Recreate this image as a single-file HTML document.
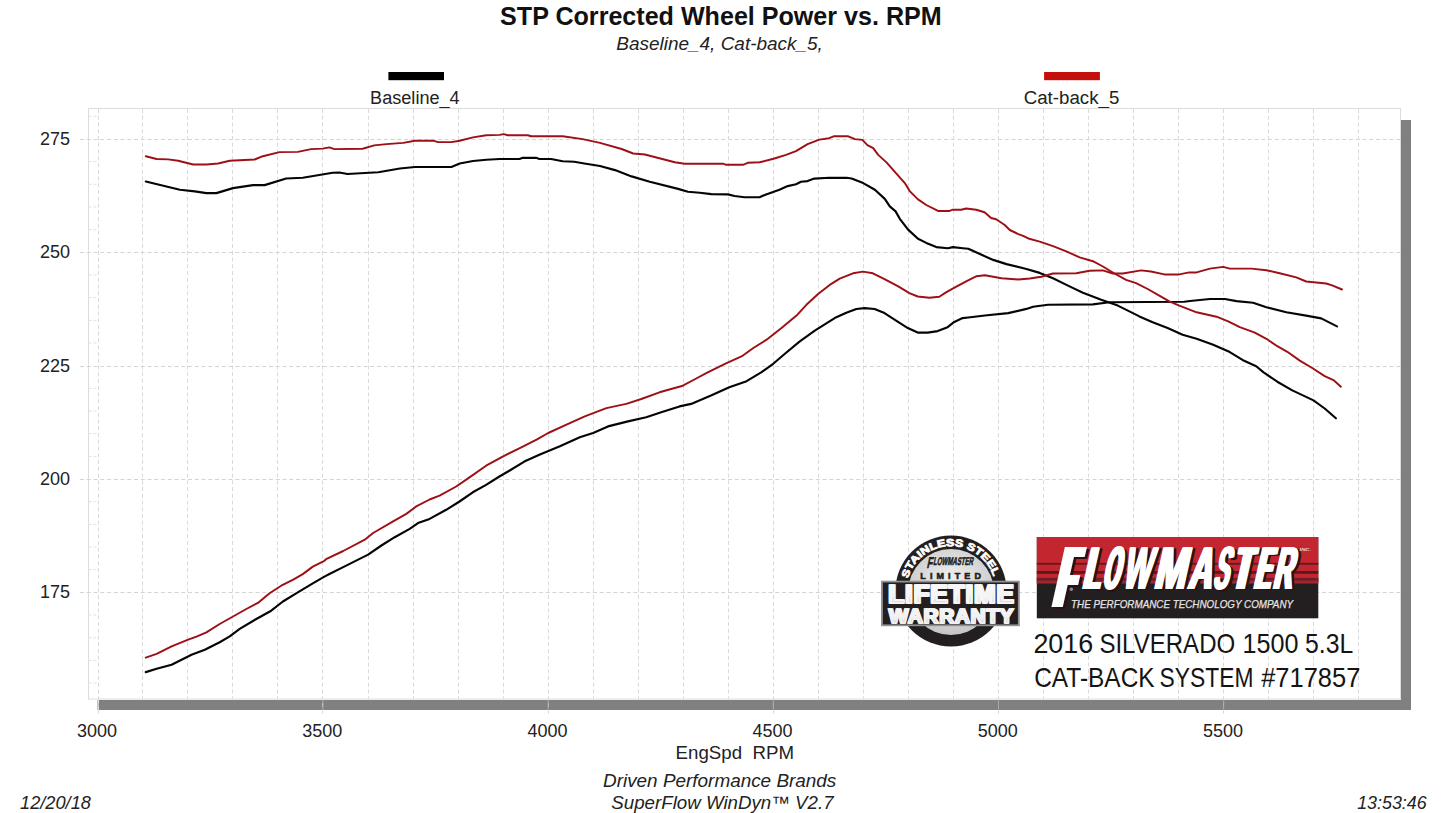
<!DOCTYPE html><html><head><meta charset="utf-8"><title>STP Corrected Wheel Power vs. RPM</title>
<style>html,body{margin:0;padding:0;background:#fff;}body{width:1445px;height:813px;overflow:hidden;font-family:"Liberation Sans",sans-serif;}svg{display:block;position:absolute;left:0;top:0;}text{font-family:"Liberation Sans",sans-serif;}</style></head><body>
<svg width="1445" height="813" viewBox="0 0 1445 813">
<defs>
<radialGradient id="gInner" cx="50%" cy="40%" r="60%"><stop offset="0" stop-color="#f3f3f3"/><stop offset="1" stop-color="#c6c6c6"/></radialGradient>
<linearGradient id="gSilver" x1="0" y1="0" x2="0" y2="1"><stop offset="0" stop-color="#ffffff"/><stop offset="0.55" stop-color="#f2f2f2"/><stop offset="1" stop-color="#c9c9c9"/></linearGradient>
</defs>
<rect x="0" y="0" width="1445" height="813" fill="#ffffff"/>
<text x="720.9" y="24.9" text-anchor="middle" font-size="25" font-weight="bold" fill="#111" textLength="441.6" lengthAdjust="spacingAndGlyphs">STP Corrected Wheel Power vs. RPM</text>
<text x="719.6" y="49.8" text-anchor="middle" font-size="18" font-style="italic" fill="#222" textLength="206.6" lengthAdjust="spacingAndGlyphs">Baseline_4, Cat-back_5,</text>
<rect x="388.4" y="72" width="55.6" height="8.2" fill="#000"/>
<text x="414.9" y="103.6" text-anchor="middle" font-size="18" fill="#222" textLength="89.6" lengthAdjust="spacingAndGlyphs">Baseline_4</text>
<rect x="1044.1" y="72" width="55.8" height="8.2" fill="#c3100d"/>
<text x="1071.5" y="103.6" text-anchor="middle" font-size="18" fill="#222" textLength="95.6" lengthAdjust="spacingAndGlyphs">Cat-back_5</text>
<rect x="1401" y="120" width="10" height="590" fill="#808080"/>
<rect x="99" y="700" width="1312" height="10" fill="#808080"/>
<rect x="88.5" y="108.5" width="1312.0" height="590.5" fill="#ffffff" stroke="#dcdcdc" stroke-width="1"/>
<path d="M98.50 109.0V716M142.50 109.0V699.0M187.50 109.0V699.0M232.50 109.0V699.0M277.50 109.0V699.0M322.50 109.0V716M368.50 109.0V699.0M413.50 109.0V699.0M458.50 109.0V699.0M503.50 109.0V699.0M548.50 109.0V716M593.50 109.0V699.0M638.50 109.0V699.0M683.50 109.0V699.0M728.50 109.0V699.0M773.50 109.0V716M818.50 109.0V699.0M863.50 109.0V699.0M908.50 109.0V699.0M953.50 109.0V699.0M998.50 109.0V716M1043.50 109.0V699.0M1088.50 109.0V699.0M1133.50 109.0V699.0M1178.50 109.0V699.0M1223.50 109.0V716M1268.50 109.0V699.0M1313.50 109.0V699.0M1358.50 109.0V699.0" fill="none" stroke="#dadada" stroke-width="1" stroke-dasharray="4 2.75"/>
<path d="M80 139.50H1400.5M80 252.50H1400.5M80 366.50H1400.5M80 479.50H1400.5M80 592.50H1400.5" fill="none" stroke="#d4d4d4" stroke-width="1" stroke-dasharray="4 2.75"/>
<path d="M88.5 116.33h9M88.5 161.67h9M88.5 184.34h9M88.5 207.01h9M88.5 229.68h9M88.5 275.02h9M88.5 297.69h9M88.5 320.36h9M88.5 343.03h9M88.5 388.37h9M88.5 411.04h9M88.5 433.71h9M88.5 456.38h9M88.5 501.72h9M88.5 524.39h9M88.5 547.06h9M88.5 569.73h9M88.5 615.07h9M88.5 637.74h9M88.5 660.41h9M88.5 683.08h9" fill="none" stroke="#e2e2e2" stroke-width="1" stroke-dasharray="3 2"/>
<path d="M97.80 700V710" stroke="#a9a9a9" stroke-width="1" fill="none"/>
<path d="M322.97 700V710" stroke="#a9a9a9" stroke-width="1" fill="none"/>
<path d="M548.15 700V710" stroke="#a9a9a9" stroke-width="1" fill="none"/>
<path d="M773.32 700V710" stroke="#a9a9a9" stroke-width="1" fill="none"/>
<path d="M998.50 700V710" stroke="#a9a9a9" stroke-width="1" fill="none"/>
<path d="M1223.67 700V710" stroke="#a9a9a9" stroke-width="1" fill="none"/>
<text x="55" y="144.8" text-anchor="middle" font-size="18" fill="#222">275</text>
<text x="55" y="258.1" text-anchor="middle" font-size="18" fill="#222">250</text>
<text x="55" y="371.5" text-anchor="middle" font-size="18" fill="#222">225</text>
<text x="55" y="484.8" text-anchor="middle" font-size="18" fill="#222">200</text>
<text x="55" y="598.2" text-anchor="middle" font-size="18" fill="#222">175</text>
<text x="97.0" y="737.3" text-anchor="middle" font-size="18" fill="#222">3000</text>
<text x="322.2" y="737.3" text-anchor="middle" font-size="18" fill="#222">3500</text>
<text x="547.4" y="737.3" text-anchor="middle" font-size="18" fill="#222">4000</text>
<text x="772.5" y="737.3" text-anchor="middle" font-size="18" fill="#222">4500</text>
<text x="997.7" y="737.3" text-anchor="middle" font-size="18" fill="#222">5000</text>
<text x="1222.9" y="737.3" text-anchor="middle" font-size="18" fill="#222">5500</text>
<text x="675.6" y="759.2" font-size="18" fill="#222" textLength="118.4" lengthAdjust="spacingAndGlyphs" xml:space="preserve">EngSpd  RPM</text>
<text x="603" y="787.4" font-size="18" font-style="italic" fill="#222" textLength="233.3" lengthAdjust="spacingAndGlyphs">Driven Performance Brands</text>
<text x="611.3" y="809" font-size="18" font-style="italic" fill="#222" textLength="222.3" lengthAdjust="spacingAndGlyphs">SuperFlow WinDyn&#8482; V2.7</text>
<text x="20.1" y="809.4" font-size="18" font-style="italic" fill="#222" textLength="70.8" lengthAdjust="spacingAndGlyphs">12/20/18</text>
<text x="1357.2" y="809.4" font-size="18" font-style="italic" fill="#222" textLength="69.4" lengthAdjust="spacingAndGlyphs">13:53:46</text>
<polyline points="145.8,181.5 179.9,189.8 194.8,191.4 206.4,193.1 216.4,193.1 233.0,188.1 253.0,185.1 264.6,185.1 286.2,178.5 302.8,177.8 332.7,172.8 339.3,172.5 347.6,174.0 369.2,172.8 378.3,172.3 399.9,168.5 414.9,167.0 451.4,167.0 459.7,163.5 473.0,161.0 486.3,159.8 499.6,159.0 519.5,159.0 522.8,157.8 536.1,157.8 539.4,159.0 551.1,159.0 562.7,161.2 574.3,161.8 584.3,163.5 600.0,166.0 615.0,170.1 631.6,176.4 649.8,181.8 678.1,188.9 688.0,191.7 699.7,192.7 711.3,194.1 727.9,194.4 734.6,196.0 744.5,197.2 759.5,197.2 766.1,194.4 779.4,189.7 787.7,186.1 796.0,184.3 801.0,181.8 807.6,181.1 814.3,178.6 829.2,177.8 846.6,177.8 851.6,178.5 863.2,183.1 874.9,189.8 884.8,198.9 889.8,206.4 895.6,211.4 899.8,218.8 908.1,229.6 918.0,238.8 926.3,242.9 936.3,247.1 947.9,248.2 952.9,247.1 962.9,248.2 968.3,248.8 979.9,254.1 993.2,259.9 1006.5,264.1 1026.4,269.0 1039.7,272.9 1053.0,278.2 1068.0,285.6 1082.9,292.8 1101.2,299.8 1117.8,305.6 1129.4,311.4 1139.4,316.4 1152.7,322.2 1167.6,328.0 1182.6,334.7 1196.6,338.8 1213.2,344.7 1229.8,352.1 1242.5,359.9 1256.2,366.2 1263.6,372.4 1277.3,381.7 1292.3,390.4 1313.5,400.4 1324.7,408.5 1335.9,418.2" fill="none" stroke="#050505" stroke-width="2.15" stroke-linejoin="round" stroke-linecap="round"/>
<polyline points="145.8,672.1 156.6,668.8 171.6,664.7 191.5,654.7 204.8,649.7 219.7,642.2 229.7,636.4 239.7,628.9 256.3,619.0 271.2,610.7 282.9,601.5 297.8,592.4 312.8,583.3 324.4,576.6 329.9,573.7 343.2,567.1 368.1,554.6 381.4,545.5 394.7,537.2 409.7,528.9 418.0,523.1 429.6,518.9 446.2,509.8 459.5,501.5 472.8,492.3 486.1,484.9 499.4,476.5 509.3,470.7 524.3,461.6 539.9,454.6 559.9,446.3 579.8,437.2 593.1,433.0 608.0,426.4 628.0,421.4 646.2,417.2 661.2,412.3 679.5,406.4 691.1,403.9 711.0,395.6 729.3,387.3 746.6,381.2 761.6,372.1 773.2,363.8 784.9,353.8 799.8,341.4 814.8,330.6 834.7,318.1 846.3,312.8 856.3,309.0 864.6,308.1 874.6,309.0 884.5,313.1 896.1,320.6 907.8,328.1 917.7,332.6 927.7,332.6 937.7,331.1 947.6,327.2 954.3,321.9 962.6,318.1 968.3,317.5 984.9,315.5 1008.2,313.1 1026.4,308.9 1033.1,306.7 1048.0,304.8 1092.9,304.4 1109.5,302.3 1184.3,301.8 1190.0,301.0 1209.9,299.0 1224.9,299.0 1236.5,301.1 1253.1,302.8 1266.4,307.3 1286.3,312.3 1306.2,315.6 1321.2,318.4 1337.0,326.4" fill="none" stroke="#050505" stroke-width="2.15" stroke-linejoin="round" stroke-linecap="round"/>
<polyline points="145.8,156.2 156.6,159.0 168.2,159.4 178.2,160.7 193.2,164.5 206.4,164.5 218.1,163.5 229.7,160.7 254.6,159.5 262.9,156.2 279.5,152.1 297.8,151.9 311.1,149.1 322.7,148.6 329.4,147.4 334.4,149.1 362.6,148.7 374.2,145.4 386.6,144.1 403.2,142.9 414.9,140.7 433.1,140.6 438.1,142.1 451.4,142.1 459.7,140.7 473.0,137.4 486.3,135.2 499.6,134.9 503.7,134.1 507.9,135.2 527.8,135.2 531.1,136.2 562.7,136.2 582.6,139.1 600.0,142.9 621.6,149.0 633.2,153.5 644.9,154.5 674.8,162.3 684.7,163.7 722.9,163.7 726.2,164.8 742.9,164.8 747.8,162.8 759.5,162.3 774.4,158.5 786.0,154.9 796.0,151.2 807.6,144.1 819.3,139.6 829.2,138.2 834.2,136.2 848.3,136.3 854.9,139.1 862.4,139.9 867.4,145.2 873.2,148.2 878.2,154.9 886.5,162.4 896.4,173.7 904.8,183.1 909.7,191.1 918.0,199.4 926.3,205.0 938.0,210.9 949.6,210.9 952.9,209.7 961.2,209.7 966.2,208.5 976.2,209.7 984.5,212.2 991.1,218.0 996.1,219.2 1004.4,224.7 1009.8,230.0 1017.7,233.8 1023.1,235.8 1029.3,238.8 1039.7,241.6 1053.0,246.1 1066.3,251.3 1079.6,257.4 1092.9,261.2 1102.9,266.5 1114.5,273.5 1126.1,279.8 1136.1,283.2 1147.7,289.0 1159.3,295.6 1169.3,301.4 1179.3,305.6 1196.6,312.3 1216.5,316.7 1228.2,321.4 1239.8,327.2 1254.8,332.7 1266.4,338.8 1277.3,346.2 1287.3,351.8 1299.8,360.6 1312.2,368.0 1324.7,376.1 1333.4,380.1 1340.9,386.7" fill="none" stroke="#9e0f16" stroke-width="1.95" stroke-linejoin="round" stroke-linecap="round"/>
<polyline points="145.8,657.7 156.6,653.9 171.6,646.4 188.2,639.7 196.5,636.7 206.4,632.3 219.7,624.0 233.0,616.5 246.3,609.0 257.9,602.9 269.6,593.2 281.2,585.7 292.8,579.9 302.8,574.1 312.8,566.6 324.4,560.8 326.6,558.8 343.2,551.0 364.8,539.7 373.1,533.0 393.1,521.4 406.3,513.9 416.3,506.4 429.6,499.5 439.6,495.6 456.2,486.5 469.5,477.4 486.1,465.7 502.7,456.6 519.3,448.3 536.6,439.7 548.2,433.0 566.5,424.7 584.8,416.4 606.4,408.1 626.3,403.9 641.3,399.0 659.5,392.3 682.8,385.7 694.4,379.5 707.7,372.4 726.0,363.3 742.6,355.8 753.3,348.0 766.6,339.7 781.5,328.1 796.5,315.6 806.4,304.8 818.1,294.0 829.7,284.9 839.7,278.6 853.0,273.3 862.9,271.6 872.9,273.3 884.5,279.1 897.8,286.2 909.4,293.2 917.7,296.5 929.4,297.8 939.3,296.8 946.0,292.4 955.9,286.9 967.6,280.7 976.6,276.2 984.9,275.2 1001.5,278.2 1018.1,279.5 1029.8,278.5 1041.4,276.8 1053.0,273.5 1076.3,273.2 1089.6,270.7 1102.9,270.4 1112.8,273.5 1122.8,273.5 1141.1,270.4 1151.0,271.5 1164.3,274.4 1179.3,274.4 1189.2,272.4 1196.6,272.4 1209.9,268.6 1223.2,266.9 1229.8,268.6 1251.4,268.6 1266.4,270.2 1279.7,273.2 1296.3,277.4 1306.2,281.5 1326.2,283.5 1332.8,285.7 1342.0,289.5" fill="none" stroke="#9e0f16" stroke-width="1.95" stroke-linejoin="round" stroke-linecap="round"/>
<circle cx="951.0" cy="591.0" r="55.6" fill="#231f20"/>
<circle cx="951.0" cy="592.0" r="42.9" fill="url(#gInner)"/>
<path id="arcTop" d="M907.90 578.40A44.9 44.9 0 0 1 993.45 576.38" fill="none"/>
<text font-size="10.3" font-weight="bold" fill="#ffffff" stroke="#ffffff" stroke-width="0.75" textLength="113.4" lengthAdjust="spacingAndGlyphs"><textPath href="#arcTop" textLength="113.4" lengthAdjust="spacingAndGlyphs">STAINLESS STEEL</textPath></text>
<g transform="translate(926.6,568.2) skewX(-12)"><text x="0" y="0" font-size="15.5" font-weight="bold" fill="#231f20" stroke="#231f20" stroke-width="0.6" textLength="5.6" lengthAdjust="spacingAndGlyphs">F</text></g>
<g transform="translate(933.0,565.4) skewX(-12)"><text x="0" y="0" font-size="11.2" font-weight="bold" fill="#231f20" stroke="#231f20" stroke-width="0.6" textLength="40" lengthAdjust="spacingAndGlyphs">LOWMASTER</text></g>
<text x="920.3" y="578.8" font-size="9.0" font-weight="bold" fill="#231f20" stroke="#231f20" stroke-width="0.6" textLength="60.6" lengthAdjust="spacing">LIMITED</text>
<rect x="881.0" y="580.7" width="138.8" height="45.5" fill="#929292"/>
<rect x="882.9" y="582.5" width="135.0" height="41.9" fill="#231f20"/>
<text x="887.70" y="602.95" font-size="25.2" font-weight="bold" fill="url(#gSilver)" stroke="#f6f6f6" stroke-width="1.7" stroke-linejoin="miter" textLength="125.0" lengthAdjust="spacing">LIFETIME</text>
<text x="888.55" y="602.95" font-size="25.2" font-weight="bold" fill="url(#gSilver)" stroke="#f6f6f6" stroke-width="1.7" stroke-linejoin="miter" textLength="125.0" lengthAdjust="spacing">LIFETIME</text>
<text x="889.40" y="602.95" font-size="25.2" font-weight="bold" fill="url(#gSilver)" stroke="#f6f6f6" stroke-width="1.7" stroke-linejoin="miter" textLength="125.0" lengthAdjust="spacing">LIFETIME</text>
<text x="888.20" y="622.6" font-size="20.6" font-weight="bold" fill="url(#gSilver)" stroke="#f2f2f2" stroke-width="1.35" stroke-linejoin="miter" textLength="124.6" lengthAdjust="spacing">WARRANTY</text>
<text x="888.85" y="622.6" font-size="20.6" font-weight="bold" fill="url(#gSilver)" stroke="#f2f2f2" stroke-width="1.35" stroke-linejoin="miter" textLength="124.6" lengthAdjust="spacing">WARRANTY</text>
<text x="889.50" y="622.6" font-size="20.6" font-weight="bold" fill="url(#gSilver)" stroke="#f2f2f2" stroke-width="1.35" stroke-linejoin="miter" textLength="124.6" lengthAdjust="spacing">WARRANTY</text>
<rect x="1036.8" y="537" width="281.5" height="81.3" fill="#231f20"/>
<rect x="1036.8" y="537" width="281.5" height="46.3" fill="#c3262e"/>
<rect x="1036.8" y="562.9" width="281.5" height="1.8" fill="#5e1b20"/>
<rect x="1036.8" y="571.0" width="281.5" height="2.8" fill="#571a1e"/>
<rect x="1036.8" y="577.9" width="281.5" height="2.9" fill="#6e1f25"/>
<rect x="1036.8" y="580.8" width="281.5" height="2.5" fill="#a3262d"/>
<g transform="translate(1052.02,609.00) skewX(-12.6) scale(0.3396,1)"><text x="0" y="0" font-size="87.2" font-weight="bold" fill="#2a1214">F</text></g><g transform="translate(1052.80,609.00) skewX(-12.6) scale(0.3396,1)"><text x="0" y="0" font-size="87.2" font-weight="bold" fill="#2a1214">F</text></g><g transform="translate(1053.58,609.00) skewX(-12.6) scale(0.3396,1)"><text x="0" y="0" font-size="87.2" font-weight="bold" fill="#2a1214">F</text></g><g transform="translate(1054.36,609.00) skewX(-12.6) scale(0.3396,1)"><text x="0" y="0" font-size="87.2" font-weight="bold" fill="#2a1214">F</text></g><g transform="translate(1055.13,609.00) skewX(-12.6) scale(0.3396,1)"><text x="0" y="0" font-size="87.2" font-weight="bold" fill="#2a1214">F</text></g><g transform="translate(1055.91,609.00) skewX(-12.6) scale(0.3396,1)"><text x="0" y="0" font-size="87.2" font-weight="bold" fill="#2a1214">F</text></g><g transform="translate(1056.69,609.00) skewX(-12.6) scale(0.3396,1)"><text x="0" y="0" font-size="87.2" font-weight="bold" fill="#2a1214">F</text></g><g transform="translate(1057.47,609.00) skewX(-12.6) scale(0.3396,1)"><text x="0" y="0" font-size="87.2" font-weight="bold" fill="#2a1214">F</text></g><g transform="translate(1058.25,609.00) skewX(-12.6) scale(0.3396,1)"><text x="0" y="0" font-size="87.2" font-weight="bold" fill="#2a1214">F</text></g><g transform="translate(1059.02,609.00) skewX(-12.6) scale(0.3396,1)"><text x="0" y="0" font-size="87.2" font-weight="bold" fill="#2a1214">F</text></g><g transform="translate(1082.77,590.40) skewX(-12.6) scale(0.4231,1)"><text x="0" y="0" font-size="60.2" font-weight="bold" fill="#2a1214">L</text></g><g transform="translate(1083.49,590.40) skewX(-12.6) scale(0.4231,1)"><text x="0" y="0" font-size="60.2" font-weight="bold" fill="#2a1214">L</text></g><g transform="translate(1084.20,590.40) skewX(-12.6) scale(0.4231,1)"><text x="0" y="0" font-size="60.2" font-weight="bold" fill="#2a1214">L</text></g><g transform="translate(1084.91,590.40) skewX(-12.6) scale(0.4231,1)"><text x="0" y="0" font-size="60.2" font-weight="bold" fill="#2a1214">L</text></g><g transform="translate(1085.63,590.40) skewX(-12.6) scale(0.4231,1)"><text x="0" y="0" font-size="60.2" font-weight="bold" fill="#2a1214">L</text></g><g transform="translate(1086.34,590.40) skewX(-12.6) scale(0.4231,1)"><text x="0" y="0" font-size="60.2" font-weight="bold" fill="#2a1214">L</text></g><g transform="translate(1087.06,590.40) skewX(-12.6) scale(0.4231,1)"><text x="0" y="0" font-size="60.2" font-weight="bold" fill="#2a1214">L</text></g><g transform="translate(1087.77,590.40) skewX(-12.6) scale(0.4231,1)"><text x="0" y="0" font-size="60.2" font-weight="bold" fill="#2a1214">L</text></g><g transform="translate(1102.57,590.80) skewX(-12.6) scale(0.3430,1)"><text x="0" y="0" font-size="60.8" font-weight="bold" fill="#2a1214">O</text></g><g transform="translate(1103.17,590.80) skewX(-12.6) scale(0.3430,1)"><text x="0" y="0" font-size="60.8" font-weight="bold" fill="#2a1214">O</text></g><g transform="translate(1103.77,590.80) skewX(-12.6) scale(0.3430,1)"><text x="0" y="0" font-size="60.8" font-weight="bold" fill="#2a1214">O</text></g><g transform="translate(1104.37,590.80) skewX(-12.6) scale(0.3430,1)"><text x="0" y="0" font-size="60.8" font-weight="bold" fill="#2a1214">O</text></g><g transform="translate(1104.97,590.80) skewX(-12.6) scale(0.3430,1)"><text x="0" y="0" font-size="60.8" font-weight="bold" fill="#2a1214">O</text></g><g transform="translate(1105.57,590.80) skewX(-12.6) scale(0.3430,1)"><text x="0" y="0" font-size="60.8" font-weight="bold" fill="#2a1214">O</text></g><g transform="translate(1122.80,590.40) skewX(-12.6) scale(0.4861,1)"><text x="0" y="0" font-size="60.2" font-weight="bold" fill="#2a1214">W</text></g><g transform="translate(1123.35,590.40) skewX(-12.6) scale(0.4861,1)"><text x="0" y="0" font-size="60.2" font-weight="bold" fill="#2a1214">W</text></g><g transform="translate(1123.90,590.40) skewX(-12.6) scale(0.4861,1)"><text x="0" y="0" font-size="60.2" font-weight="bold" fill="#2a1214">W</text></g><g transform="translate(1124.45,590.40) skewX(-12.6) scale(0.4861,1)"><text x="0" y="0" font-size="60.2" font-weight="bold" fill="#2a1214">W</text></g><g transform="translate(1125.00,590.40) skewX(-12.6) scale(0.4861,1)"><text x="0" y="0" font-size="60.2" font-weight="bold" fill="#2a1214">W</text></g><g transform="translate(1153.92,590.40) skewX(-12.6) scale(0.6317,1)"><text x="0" y="0" font-size="60.2" font-weight="bold" fill="#2a1214">M</text></g><g transform="translate(1154.52,590.40) skewX(-12.6) scale(0.6317,1)"><text x="0" y="0" font-size="60.2" font-weight="bold" fill="#2a1214">M</text></g><g transform="translate(1155.12,590.40) skewX(-12.6) scale(0.6317,1)"><text x="0" y="0" font-size="60.2" font-weight="bold" fill="#2a1214">M</text></g><g transform="translate(1155.72,590.40) skewX(-12.6) scale(0.6317,1)"><text x="0" y="0" font-size="60.2" font-weight="bold" fill="#2a1214">M</text></g><g transform="translate(1156.32,590.40) skewX(-12.6) scale(0.6317,1)"><text x="0" y="0" font-size="60.2" font-weight="bold" fill="#2a1214">M</text></g><g transform="translate(1156.92,590.40) skewX(-12.6) scale(0.6317,1)"><text x="0" y="0" font-size="60.2" font-weight="bold" fill="#2a1214">M</text></g><g transform="translate(1188.25,590.40) skewX(-12.6) scale(0.5399,1)"><text x="0" y="0" font-size="60.2" font-weight="bold" fill="#2a1214">A</text></g><g transform="translate(1188.85,590.40) skewX(-12.6) scale(0.5399,1)"><text x="0" y="0" font-size="60.2" font-weight="bold" fill="#2a1214">A</text></g><g transform="translate(1189.45,590.40) skewX(-12.6) scale(0.5399,1)"><text x="0" y="0" font-size="60.2" font-weight="bold" fill="#2a1214">A</text></g><g transform="translate(1190.05,590.40) skewX(-12.6) scale(0.5399,1)"><text x="0" y="0" font-size="60.2" font-weight="bold" fill="#2a1214">A</text></g><g transform="translate(1190.65,590.40) skewX(-12.6) scale(0.5399,1)"><text x="0" y="0" font-size="60.2" font-weight="bold" fill="#2a1214">A</text></g><g transform="translate(1191.25,590.40) skewX(-12.6) scale(0.5399,1)"><text x="0" y="0" font-size="60.2" font-weight="bold" fill="#2a1214">A</text></g><g transform="translate(1213.56,590.80) skewX(-12.6) scale(0.3613,1)"><text x="0" y="0" font-size="60.8" font-weight="bold" fill="#2a1214">S</text></g><g transform="translate(1214.21,590.80) skewX(-12.6) scale(0.3613,1)"><text x="0" y="0" font-size="60.8" font-weight="bold" fill="#2a1214">S</text></g><g transform="translate(1214.86,590.80) skewX(-12.6) scale(0.3613,1)"><text x="0" y="0" font-size="60.8" font-weight="bold" fill="#2a1214">S</text></g><g transform="translate(1215.51,590.80) skewX(-12.6) scale(0.3613,1)"><text x="0" y="0" font-size="60.8" font-weight="bold" fill="#2a1214">S</text></g><g transform="translate(1216.16,590.80) skewX(-12.6) scale(0.3613,1)"><text x="0" y="0" font-size="60.8" font-weight="bold" fill="#2a1214">S</text></g><g transform="translate(1231.54,590.40) skewX(-12.6) scale(0.4402,1)"><text x="0" y="0" font-size="60.2" font-weight="bold" fill="#2a1214">T</text></g><g transform="translate(1232.32,590.40) skewX(-12.6) scale(0.4402,1)"><text x="0" y="0" font-size="60.2" font-weight="bold" fill="#2a1214">T</text></g><g transform="translate(1233.11,590.40) skewX(-12.6) scale(0.4402,1)"><text x="0" y="0" font-size="60.2" font-weight="bold" fill="#2a1214">T</text></g><g transform="translate(1233.89,590.40) skewX(-12.6) scale(0.4402,1)"><text x="0" y="0" font-size="60.2" font-weight="bold" fill="#2a1214">T</text></g><g transform="translate(1234.68,590.40) skewX(-12.6) scale(0.4402,1)"><text x="0" y="0" font-size="60.2" font-weight="bold" fill="#2a1214">T</text></g><g transform="translate(1235.46,590.40) skewX(-12.6) scale(0.4402,1)"><text x="0" y="0" font-size="60.2" font-weight="bold" fill="#2a1214">T</text></g><g transform="translate(1236.25,590.40) skewX(-12.6) scale(0.4402,1)"><text x="0" y="0" font-size="60.2" font-weight="bold" fill="#2a1214">T</text></g><g transform="translate(1237.04,590.40) skewX(-12.6) scale(0.4402,1)"><text x="0" y="0" font-size="60.2" font-weight="bold" fill="#2a1214">T</text></g><g transform="translate(1253.84,590.40) skewX(-12.6) scale(0.3759,1)"><text x="0" y="0" font-size="60.2" font-weight="bold" fill="#2a1214">E</text></g><g transform="translate(1254.59,590.40) skewX(-12.6) scale(0.3759,1)"><text x="0" y="0" font-size="60.2" font-weight="bold" fill="#2a1214">E</text></g><g transform="translate(1255.34,590.40) skewX(-12.6) scale(0.3759,1)"><text x="0" y="0" font-size="60.2" font-weight="bold" fill="#2a1214">E</text></g><g transform="translate(1256.09,590.40) skewX(-12.6) scale(0.3759,1)"><text x="0" y="0" font-size="60.2" font-weight="bold" fill="#2a1214">E</text></g><g transform="translate(1256.84,590.40) skewX(-12.6) scale(0.3759,1)"><text x="0" y="0" font-size="60.2" font-weight="bold" fill="#2a1214">E</text></g><g transform="translate(1257.59,590.40) skewX(-12.6) scale(0.3759,1)"><text x="0" y="0" font-size="60.2" font-weight="bold" fill="#2a1214">E</text></g><g transform="translate(1258.34,590.40) skewX(-12.6) scale(0.3759,1)"><text x="0" y="0" font-size="60.2" font-weight="bold" fill="#2a1214">E</text></g><g transform="translate(1273.04,590.40) skewX(-12.6) scale(0.4319,1)"><text x="0" y="0" font-size="60.2" font-weight="bold" fill="#2a1214">R</text></g><g transform="translate(1273.68,590.40) skewX(-12.6) scale(0.4319,1)"><text x="0" y="0" font-size="60.2" font-weight="bold" fill="#2a1214">R</text></g><g transform="translate(1274.32,590.40) skewX(-12.6) scale(0.4319,1)"><text x="0" y="0" font-size="60.2" font-weight="bold" fill="#2a1214">R</text></g><g transform="translate(1274.96,590.40) skewX(-12.6) scale(0.4319,1)"><text x="0" y="0" font-size="60.2" font-weight="bold" fill="#2a1214">R</text></g><g transform="translate(1275.60,590.40) skewX(-12.6) scale(0.4319,1)"><text x="0" y="0" font-size="60.2" font-weight="bold" fill="#2a1214">R</text></g><g transform="translate(1276.24,590.40) skewX(-12.6) scale(0.4319,1)"><text x="0" y="0" font-size="60.2" font-weight="bold" fill="#2a1214">R</text></g>
<g transform="translate(1049.62,607.20) skewX(-12.6) scale(0.3396,1)"><text x="0" y="0" font-size="87.2" font-weight="bold" fill="#ffffff">F</text></g><g transform="translate(1050.40,607.20) skewX(-12.6) scale(0.3396,1)"><text x="0" y="0" font-size="87.2" font-weight="bold" fill="#ffffff">F</text></g><g transform="translate(1051.18,607.20) skewX(-12.6) scale(0.3396,1)"><text x="0" y="0" font-size="87.2" font-weight="bold" fill="#ffffff">F</text></g><g transform="translate(1051.96,607.20) skewX(-12.6) scale(0.3396,1)"><text x="0" y="0" font-size="87.2" font-weight="bold" fill="#ffffff">F</text></g><g transform="translate(1052.73,607.20) skewX(-12.6) scale(0.3396,1)"><text x="0" y="0" font-size="87.2" font-weight="bold" fill="#ffffff">F</text></g><g transform="translate(1053.51,607.20) skewX(-12.6) scale(0.3396,1)"><text x="0" y="0" font-size="87.2" font-weight="bold" fill="#ffffff">F</text></g><g transform="translate(1054.29,607.20) skewX(-12.6) scale(0.3396,1)"><text x="0" y="0" font-size="87.2" font-weight="bold" fill="#ffffff">F</text></g><g transform="translate(1055.07,607.20) skewX(-12.6) scale(0.3396,1)"><text x="0" y="0" font-size="87.2" font-weight="bold" fill="#ffffff">F</text></g><g transform="translate(1055.85,607.20) skewX(-12.6) scale(0.3396,1)"><text x="0" y="0" font-size="87.2" font-weight="bold" fill="#ffffff">F</text></g><g transform="translate(1056.62,607.20) skewX(-12.6) scale(0.3396,1)"><text x="0" y="0" font-size="87.2" font-weight="bold" fill="#ffffff">F</text></g><g transform="translate(1080.37,588.60) skewX(-12.6) scale(0.4231,1)"><text x="0" y="0" font-size="60.2" font-weight="bold" fill="#ffffff">L</text></g><g transform="translate(1081.09,588.60) skewX(-12.6) scale(0.4231,1)"><text x="0" y="0" font-size="60.2" font-weight="bold" fill="#ffffff">L</text></g><g transform="translate(1081.80,588.60) skewX(-12.6) scale(0.4231,1)"><text x="0" y="0" font-size="60.2" font-weight="bold" fill="#ffffff">L</text></g><g transform="translate(1082.51,588.60) skewX(-12.6) scale(0.4231,1)"><text x="0" y="0" font-size="60.2" font-weight="bold" fill="#ffffff">L</text></g><g transform="translate(1083.23,588.60) skewX(-12.6) scale(0.4231,1)"><text x="0" y="0" font-size="60.2" font-weight="bold" fill="#ffffff">L</text></g><g transform="translate(1083.94,588.60) skewX(-12.6) scale(0.4231,1)"><text x="0" y="0" font-size="60.2" font-weight="bold" fill="#ffffff">L</text></g><g transform="translate(1084.66,588.60) skewX(-12.6) scale(0.4231,1)"><text x="0" y="0" font-size="60.2" font-weight="bold" fill="#ffffff">L</text></g><g transform="translate(1085.37,588.60) skewX(-12.6) scale(0.4231,1)"><text x="0" y="0" font-size="60.2" font-weight="bold" fill="#ffffff">L</text></g><g transform="translate(1100.17,589.00) skewX(-12.6) scale(0.3430,1)"><text x="0" y="0" font-size="60.8" font-weight="bold" fill="#ffffff">O</text></g><g transform="translate(1100.77,589.00) skewX(-12.6) scale(0.3430,1)"><text x="0" y="0" font-size="60.8" font-weight="bold" fill="#ffffff">O</text></g><g transform="translate(1101.37,589.00) skewX(-12.6) scale(0.3430,1)"><text x="0" y="0" font-size="60.8" font-weight="bold" fill="#ffffff">O</text></g><g transform="translate(1101.97,589.00) skewX(-12.6) scale(0.3430,1)"><text x="0" y="0" font-size="60.8" font-weight="bold" fill="#ffffff">O</text></g><g transform="translate(1102.57,589.00) skewX(-12.6) scale(0.3430,1)"><text x="0" y="0" font-size="60.8" font-weight="bold" fill="#ffffff">O</text></g><g transform="translate(1103.17,589.00) skewX(-12.6) scale(0.3430,1)"><text x="0" y="0" font-size="60.8" font-weight="bold" fill="#ffffff">O</text></g><g transform="translate(1120.40,588.60) skewX(-12.6) scale(0.4861,1)"><text x="0" y="0" font-size="60.2" font-weight="bold" fill="#ffffff">W</text></g><g transform="translate(1120.95,588.60) skewX(-12.6) scale(0.4861,1)"><text x="0" y="0" font-size="60.2" font-weight="bold" fill="#ffffff">W</text></g><g transform="translate(1121.50,588.60) skewX(-12.6) scale(0.4861,1)"><text x="0" y="0" font-size="60.2" font-weight="bold" fill="#ffffff">W</text></g><g transform="translate(1122.05,588.60) skewX(-12.6) scale(0.4861,1)"><text x="0" y="0" font-size="60.2" font-weight="bold" fill="#ffffff">W</text></g><g transform="translate(1122.60,588.60) skewX(-12.6) scale(0.4861,1)"><text x="0" y="0" font-size="60.2" font-weight="bold" fill="#ffffff">W</text></g><g transform="translate(1151.52,588.60) skewX(-12.6) scale(0.6317,1)"><text x="0" y="0" font-size="60.2" font-weight="bold" fill="#ffffff">M</text></g><g transform="translate(1152.12,588.60) skewX(-12.6) scale(0.6317,1)"><text x="0" y="0" font-size="60.2" font-weight="bold" fill="#ffffff">M</text></g><g transform="translate(1152.72,588.60) skewX(-12.6) scale(0.6317,1)"><text x="0" y="0" font-size="60.2" font-weight="bold" fill="#ffffff">M</text></g><g transform="translate(1153.32,588.60) skewX(-12.6) scale(0.6317,1)"><text x="0" y="0" font-size="60.2" font-weight="bold" fill="#ffffff">M</text></g><g transform="translate(1153.92,588.60) skewX(-12.6) scale(0.6317,1)"><text x="0" y="0" font-size="60.2" font-weight="bold" fill="#ffffff">M</text></g><g transform="translate(1154.52,588.60) skewX(-12.6) scale(0.6317,1)"><text x="0" y="0" font-size="60.2" font-weight="bold" fill="#ffffff">M</text></g><g transform="translate(1185.85,588.60) skewX(-12.6) scale(0.5399,1)"><text x="0" y="0" font-size="60.2" font-weight="bold" fill="#ffffff">A</text></g><g transform="translate(1186.45,588.60) skewX(-12.6) scale(0.5399,1)"><text x="0" y="0" font-size="60.2" font-weight="bold" fill="#ffffff">A</text></g><g transform="translate(1187.05,588.60) skewX(-12.6) scale(0.5399,1)"><text x="0" y="0" font-size="60.2" font-weight="bold" fill="#ffffff">A</text></g><g transform="translate(1187.65,588.60) skewX(-12.6) scale(0.5399,1)"><text x="0" y="0" font-size="60.2" font-weight="bold" fill="#ffffff">A</text></g><g transform="translate(1188.25,588.60) skewX(-12.6) scale(0.5399,1)"><text x="0" y="0" font-size="60.2" font-weight="bold" fill="#ffffff">A</text></g><g transform="translate(1188.85,588.60) skewX(-12.6) scale(0.5399,1)"><text x="0" y="0" font-size="60.2" font-weight="bold" fill="#ffffff">A</text></g><g transform="translate(1211.16,589.00) skewX(-12.6) scale(0.3613,1)"><text x="0" y="0" font-size="60.8" font-weight="bold" fill="#ffffff">S</text></g><g transform="translate(1211.81,589.00) skewX(-12.6) scale(0.3613,1)"><text x="0" y="0" font-size="60.8" font-weight="bold" fill="#ffffff">S</text></g><g transform="translate(1212.46,589.00) skewX(-12.6) scale(0.3613,1)"><text x="0" y="0" font-size="60.8" font-weight="bold" fill="#ffffff">S</text></g><g transform="translate(1213.11,589.00) skewX(-12.6) scale(0.3613,1)"><text x="0" y="0" font-size="60.8" font-weight="bold" fill="#ffffff">S</text></g><g transform="translate(1213.76,589.00) skewX(-12.6) scale(0.3613,1)"><text x="0" y="0" font-size="60.8" font-weight="bold" fill="#ffffff">S</text></g><g transform="translate(1229.13,588.60) skewX(-12.6) scale(0.4402,1)"><text x="0" y="0" font-size="60.2" font-weight="bold" fill="#ffffff">T</text></g><g transform="translate(1229.92,588.60) skewX(-12.6) scale(0.4402,1)"><text x="0" y="0" font-size="60.2" font-weight="bold" fill="#ffffff">T</text></g><g transform="translate(1230.71,588.60) skewX(-12.6) scale(0.4402,1)"><text x="0" y="0" font-size="60.2" font-weight="bold" fill="#ffffff">T</text></g><g transform="translate(1231.49,588.60) skewX(-12.6) scale(0.4402,1)"><text x="0" y="0" font-size="60.2" font-weight="bold" fill="#ffffff">T</text></g><g transform="translate(1232.28,588.60) skewX(-12.6) scale(0.4402,1)"><text x="0" y="0" font-size="60.2" font-weight="bold" fill="#ffffff">T</text></g><g transform="translate(1233.06,588.60) skewX(-12.6) scale(0.4402,1)"><text x="0" y="0" font-size="60.2" font-weight="bold" fill="#ffffff">T</text></g><g transform="translate(1233.85,588.60) skewX(-12.6) scale(0.4402,1)"><text x="0" y="0" font-size="60.2" font-weight="bold" fill="#ffffff">T</text></g><g transform="translate(1234.63,588.60) skewX(-12.6) scale(0.4402,1)"><text x="0" y="0" font-size="60.2" font-weight="bold" fill="#ffffff">T</text></g><g transform="translate(1251.44,588.60) skewX(-12.6) scale(0.3759,1)"><text x="0" y="0" font-size="60.2" font-weight="bold" fill="#ffffff">E</text></g><g transform="translate(1252.19,588.60) skewX(-12.6) scale(0.3759,1)"><text x="0" y="0" font-size="60.2" font-weight="bold" fill="#ffffff">E</text></g><g transform="translate(1252.94,588.60) skewX(-12.6) scale(0.3759,1)"><text x="0" y="0" font-size="60.2" font-weight="bold" fill="#ffffff">E</text></g><g transform="translate(1253.69,588.60) skewX(-12.6) scale(0.3759,1)"><text x="0" y="0" font-size="60.2" font-weight="bold" fill="#ffffff">E</text></g><g transform="translate(1254.44,588.60) skewX(-12.6) scale(0.3759,1)"><text x="0" y="0" font-size="60.2" font-weight="bold" fill="#ffffff">E</text></g><g transform="translate(1255.19,588.60) skewX(-12.6) scale(0.3759,1)"><text x="0" y="0" font-size="60.2" font-weight="bold" fill="#ffffff">E</text></g><g transform="translate(1255.94,588.60) skewX(-12.6) scale(0.3759,1)"><text x="0" y="0" font-size="60.2" font-weight="bold" fill="#ffffff">E</text></g><g transform="translate(1270.64,588.60) skewX(-12.6) scale(0.4319,1)"><text x="0" y="0" font-size="60.2" font-weight="bold" fill="#ffffff">R</text></g><g transform="translate(1271.28,588.60) skewX(-12.6) scale(0.4319,1)"><text x="0" y="0" font-size="60.2" font-weight="bold" fill="#ffffff">R</text></g><g transform="translate(1271.92,588.60) skewX(-12.6) scale(0.4319,1)"><text x="0" y="0" font-size="60.2" font-weight="bold" fill="#ffffff">R</text></g><g transform="translate(1272.56,588.60) skewX(-12.6) scale(0.4319,1)"><text x="0" y="0" font-size="60.2" font-weight="bold" fill="#ffffff">R</text></g><g transform="translate(1273.20,588.60) skewX(-12.6) scale(0.4319,1)"><text x="0" y="0" font-size="60.2" font-weight="bold" fill="#ffffff">R</text></g><g transform="translate(1273.84,588.60) skewX(-12.6) scale(0.4319,1)"><text x="0" y="0" font-size="60.2" font-weight="bold" fill="#ffffff">R</text></g>
<circle cx="1071.3" cy="589.2" r="1.7" fill="#8a8a8a"/>
<text x="1299.6" y="550.7" font-size="4.2" font-weight="bold" font-style="italic" fill="#f0dede" textLength="11.5" lengthAdjust="spacingAndGlyphs">INC.</text>
<text x="1071.1" y="607.7" font-size="10.5" font-style="italic" fill="#e4e4e4" stroke="#e4e4e4" stroke-width="0.25" textLength="222" lengthAdjust="spacingAndGlyphs">THE PERFORMANCE TECHNOLOGY COMPANY</text>
<text x="1033.40" y="652.7" font-size="26.9" fill="#141414" textLength="59.80" lengthAdjust="spacingAndGlyphs">2016</text>
<text x="1099.40" y="652.7" font-size="26.9" fill="#141414" textLength="135.80" lengthAdjust="spacingAndGlyphs">SILVERADO</text>
<text x="1242.60" y="652.7" font-size="26.9" fill="#141414" textLength="56.00" lengthAdjust="spacingAndGlyphs">1500</text>
<text x="1305.00" y="652.7" font-size="26.9" fill="#141414" textLength="48.20" lengthAdjust="spacingAndGlyphs">5.3L</text>
<text x="1034.20" y="686.7" font-size="26.9" fill="#141414" textLength="120.40" lengthAdjust="spacingAndGlyphs">CAT-BACK</text>
<text x="1159.60" y="686.7" font-size="26.9" fill="#141414" textLength="93.80" lengthAdjust="spacingAndGlyphs">SYSTEM</text>
<text x="1261.20" y="686.7" font-size="26.9" fill="#141414" textLength="99.20" lengthAdjust="spacingAndGlyphs">#717857</text>
</svg></body></html>
